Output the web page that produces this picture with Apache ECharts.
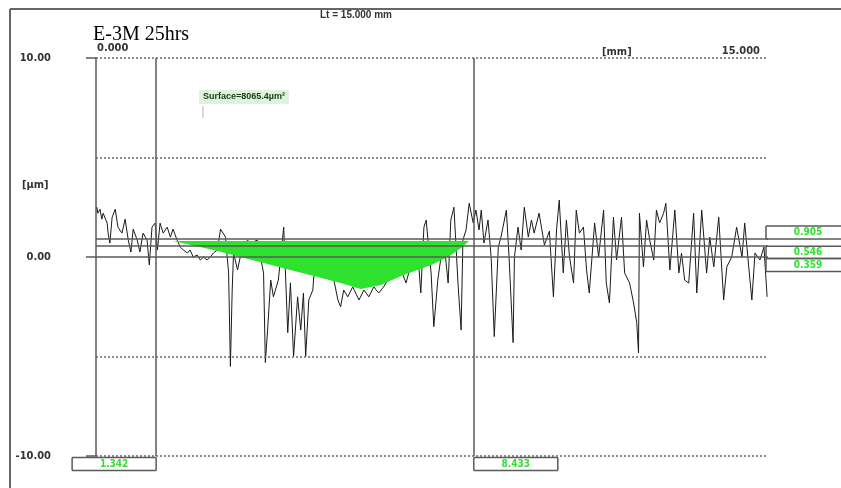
<!DOCTYPE html>
<html><head><meta charset="utf-8">
<script src="https://cdn.jsdelivr.net/npm/echarts@6/dist/echarts.min.js"></script>
<style>html,body{margin:0;padding:0;background:#fff}#c{width:841px;height:488px}</style>
</head><body><div id="c"></div>
<script>
// ---------- data ----------
const titleText = 'E-3M 25hrs';
const lengthLabel = 'Lt = 15.000 mm';
const surfaceLabel = 'Surface=8065.4µm²';
const xTickValues = [0, 15];
const xTickLabels = ['0.000', '15.000'];
const xUnit = '[mm]';
const yUnit = '[µm]';
const dottedLevels = [10, 5, -5, -10];
const refLevels = [0.905, 0.546, 0];
const boxLabels = ['0.905', '0.546', '0.359'];
const cursorX = [1.342, 8.433];
const cursorLabels = ['1.342', '8.433'];
// profile: [position mm, height µm]
const profile = [
 [0.02,2.5],[0.04,2.2],[0.09,2.4],[0.13,1.9],[0.16,2.2],[0.25,1.7],[0.27,1.2],[0.31,0.7],[0.36,2.0],[0.43,2.4],
 [0.47,2.5],[0.49,1.5],[0.58,1.2],[0.65,1.9],[0.72,0.85],[0.78,0.25],[0.83,1.4],[0.92,0.85],[0.98,0.25],[1.05,1.2],
 [1.14,0.85],[1.19,-0.4],[1.25,1.5],[1.32,1.7],[1.37,0.35],[1.43,1.7],[1.50,1.2],[1.59,1.5],[1.66,1.0],[1.72,1.4],
 [1.81,0.85],[1.88,0.5],[1.95,0.35],[2.04,0.2],[2.10,0.35],[2.17,0.0],[2.26,0.1],[2.33,-0.15],[2.40,0.0],[2.48,-0.15],
 [2.55,0.0],[2.62,0.2],[2.71,0.35],[2.78,1.4],[2.82,1.5],[2.89,1.0],[2.96,-0.8],[3.00,-5.5],[3.04,-1.66],[3.07,0.2],
 [3.16,-0.65],[3.22,0.0],[3.38,0.85],[3.45,0.7],[3.60,0.85],[3.74,-0.8],[3.78,-5.3],[3.83,-3.67],[3.90,-1.16],[3.96,-2.0],
 [4.07,-1.16],[4.19,1.5],[4.28,-3.8],[4.34,-1.3],[4.41,-5.0],[4.50,-2.0],[4.57,-3.67],[4.63,-1.81],[4.68,-5.0],[4.75,-2.16],
 [4.84,-1.66],[4.86,-1.0],[4.97,-0.65],[5.13,-0.4],[5.31,-1.16],[5.40,-2.16],[5.46,-2.5],[5.53,-1.66],[5.62,-2.0],[5.73,-1.5],
 [5.87,-2.16],[5.98,-1.66],[6.09,-2.0],[6.20,-1.5],[6.31,-1.81],[6.42,-1.5],[6.51,-1.16],[6.65,-1.0],[6.81,-0.65],[6.92,-1.31],
 [6.98,-0.8],[7.10,-0.5],[7.19,0.0],[7.25,-1.81],[7.32,1.5],[7.37,1.86],[7.41,0.85],[7.48,-0.8],[7.54,-3.5],[7.63,-1.16],
 [7.70,0.0],[7.77,0.7],[7.86,-1.31],[7.92,1.86],[7.99,2.5],[8.08,-1.31],[8.15,-3.67],[8.19,0.85],[8.26,1.36],[8.33,2.7],
 [8.42,1.71],[8.48,2.36],[8.55,1.36],[8.60,2.36],[8.66,0.7],[8.75,1.86],[8.82,0.0],[8.89,-4.0],[8.98,0.5],[9.04,1.0],
 [9.16,2.36],[9.22,0.0],[9.31,-4.3],[9.34,0.0],[9.42,1.5],[9.49,0.35],[9.56,2.5],[9.65,1.0],[9.72,1.86],[9.78,1.2],
 [9.89,2.2],[10.01,0.6],[10.12,1.3],[10.21,-2.0],[10.28,1.36],[10.34,2.86],[10.43,-0.8],[10.50,1.86],[10.57,0.0],[10.66,-1.31],
 [10.72,2.36],[10.79,1.2],[10.88,1.5],[10.95,-0.65],[11.01,-1.81],[11.13,1.71],[11.22,0.0],[11.33,2.36],[11.39,-1.31],[11.46,-2.31],
 [11.55,2.0],[11.62,-0.15],[11.73,2.0],[11.80,-0.8],[11.91,-1.31],[12.00,-2.31],[12.07,-3.3],[12.11,-4.82],[12.13,2.2],[12.22,-0.5],
 [12.29,1.86],[12.36,0.85],[12.45,-0.15],[12.51,2.36],[12.58,1.71],[12.67,2.2],[12.72,2.7],[12.81,-0.65],[12.92,2.36],[13.01,-0.8],
 [13.07,0.2],[13.14,-1.16],[13.23,-1.31],[13.34,2.2],[13.41,-1.81],[13.52,2.36],[13.63,-0.8],[13.70,1.0],[13.79,-0.5],[13.90,2.0],
 [14.01,-2.16],[14.08,-0.5],[14.19,0.0],[14.30,1.5],[14.42,0.0],[14.48,1.71],[14.57,-0.5],[14.64,-2.16],[14.71,0.2],[14.82,-0.15],
 [14.91,0.5],[14.98,-2.0]
];
// green surface region: lower boundary [mm, µm] and its upper level
const fillLower = [
 [1.72,0.8],[2.62,0.35],[3.22,0.0],[3.83,-0.35],[4.34,-0.65],[4.86,-0.95],[5.46,-1.31],[5.91,-1.61],
 [6.36,-1.41],[6.81,-0.95],[7.48,-0.4],[7.86,0.0],[8.15,0.45],[8.33,0.8]
];
const fillTop = 0.8;

// ---------- chart ----------
const FONT = "'DejaVu Sans Condensed','DejaVu Sans',sans-serif";
const NARROW = "'Liberation Sans',Arial,sans-serif";
const GREEN = '#2ee22e';
const LINE = '#5a5a5a';
const chart = echarts.init(document.getElementById('c'), null, {renderer: 'canvas'});

const markLines = [];
dottedLevels.forEach(v => markLines.push([
  {coord: [0, v], lineStyle: {type: [2, 2], color: '#6a6a6a', width: 1.5}},
  {coord: [15, v]}
]));
refLevels.forEach(v => markLines.push([
  {coord: [0, v], lineStyle: {type: 'solid', color: LINE, width: 1.5}},
  {coord: [15, v]}
]));
cursorX.forEach(x => markLines.push([
  {coord: [x, 10], lineStyle: {type: 'solid', color: LINE, width: 1.5}},
  {coord: [x, -10]}
]));

chart.setOption({
  animation: false,
  grid: {left: 96, top: 58, width: 672, height: 398},
  xAxis: {type: 'value', min: 0, max: 15, show: false},
  yAxis: {
    type: 'value', min: -10, max: 10, interval: 10,
    axisLine: {show: true, lineStyle: {color: LINE, width: 1.5}},
    axisTick: {show: true, length: 10, lineStyle: {color: LINE, width: 1.5}},
    splitLine: {show: false},
    axisLabel: {margin: 45, color: '#333', fontFamily: FONT, fontWeight: 'bold', fontSize: 11,
      formatter: v => v.toFixed(2)}
  },
  series: [
    {
      type: 'line', z: 2, silent: true, showSymbol: false,
      data: profile,
      lineStyle: {color: '#1a1a1a', width: 1},
      markLine: {silent: true, symbol: 'none', label: {show: false}, data: markLines}
    },
    {
      type: 'custom', z: 4, silent: true,
      data: [[0, 0]],
      renderItem: (params, api) => {
        const pts = fillLower.map(p => api.coord(p));
        pts.push(api.coord([fillLower[fillLower.length - 1][0], fillTop]));
        pts.push(api.coord([fillLower[0][0], fillTop]));
        return {type: 'polygon', shape: {points: pts}, style: {fill: GREEN}};
      }
    }
  ]
});

const px = (x, y) => chart.convertToPixel({gridIndex: 0}, [x, y]);
const g = [];
const txt = (x, y, s, opt) => g.push({type: 'text', x, y, z: 10, style: Object.assign({
  text: s, fill: '#333', font: "bold 11px " + FONT, textAlign: 'left', textVerticalAlign: 'middle'}, opt || {})});
const ln = (x1, y1, x2, y2, w, c) => g.push({type: 'line', z: 9, shape: {x1, y1, x2, y2},
  style: {stroke: c || LINE, lineWidth: w || 1.5}});

// outer frame
ln(10, 9, 841, 9, 2, '#666');
ln(10, 9, 10, 488, 2, '#666');
// title & headers
txt(93, 35, titleText, {font: "20px 'Liberation Serif', serif", fill: '#000'});
txt(356, 15, lengthLabel, {textAlign: 'center', font: "bold 10px " + NARROW});
const [x0, yTop] = px(xTickValues[0], 10);
const [x15] = px(xTickValues[1], 10);
txt(x0 + 1, yTop - 10, xTickLabels[0]);
txt(x15 - 8, yTop - 7, xTickLabels[1], {textAlign: 'right'});
txt(602, yTop - 6, xUnit);
txt(22, px(0, 3.6)[1], yUnit);
// surface annotation
g.push({type: 'rect', z: 8, shape: {x: 199, y: 90, width: 90, height: 14}, style: {fill: '#dcf4dc'}});
txt(203, 97, surfaceLabel, {fill: '#203c20', font: "bold 9px " + NARROW});
ln(203, 106, 203, 118, 1, '#b0b0b0');
// right boxes
const bx = x15 - 2;
const yA = px(0, refLevels[0])[1], yB = px(0, refLevels[1])[1], yC = px(0, refLevels[2])[1] + 1.5;
const rows = [[yA - 13, yA], [yB, yC], [yC, yC + 13]];
rows.forEach((r, i) => {
  ln(bx, r[0], 841, r[0]); ln(bx, r[1], 841, r[1]); ln(bx, r[0], bx, r[1]);
  txt(808, (r[0] + r[1]) / 2, boxLabels[i], {fill: GREEN, textAlign: 'center', font: "bold 10px " + FONT});
});
// bottom cursor boxes
const yBot = px(0, -10)[1] + 1.5;
cursorX.forEach((c, i) => {
  const cx = px(c, 0)[0];
  const l = i === 0 ? cx - 84 : cx, r = i === 0 ? cx : cx + 84;
  ln(l, yBot, r, yBot); ln(l, yBot + 13, r, yBot + 13); ln(l, yBot, l, yBot + 13); ln(r, yBot, r, yBot + 13);
  txt((l + r) / 2, yBot + 6.5, cursorLabels[i], {fill: GREEN, textAlign: 'center', font: "bold 10px " + FONT});
});
chart.setOption({graphic: g});
</script></body></html>
